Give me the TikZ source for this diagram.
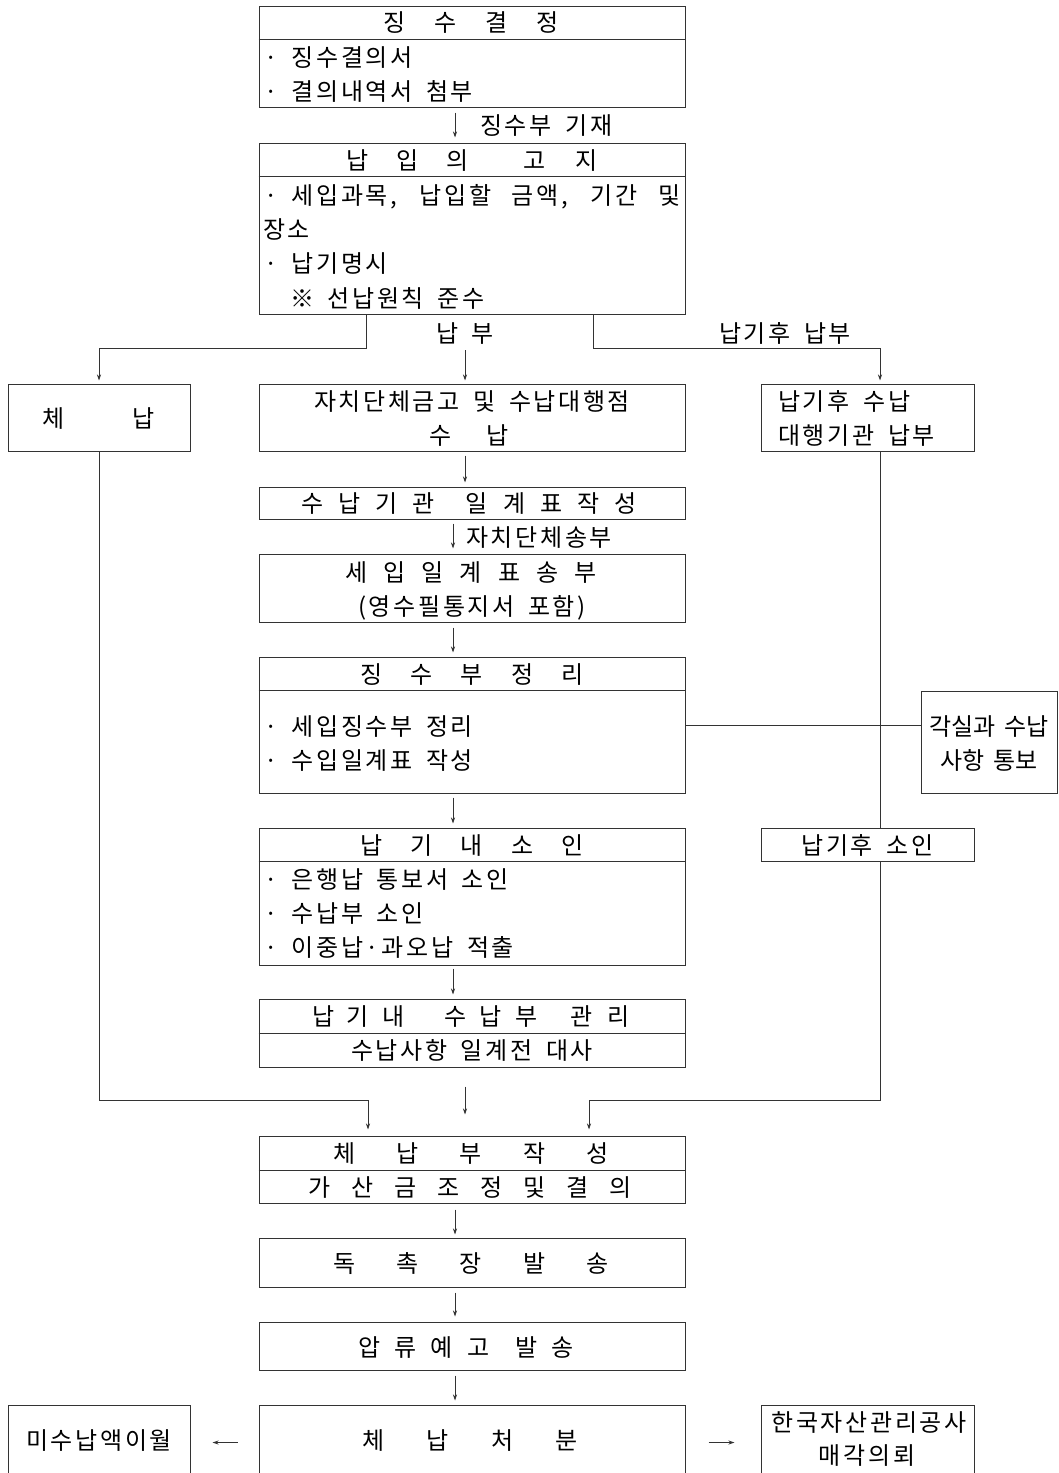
\documentclass[tikz,border=0pt]{standalone}
\usepackage{fontspec}
\setmainfont{Noto Sans CJK KR}[LetterSpace=11, WordSpace=1.7]
\newfontfamily\ttlfont{Noto Sans CJK KR}
\usetikzlibrary{calc,arrows.meta}
\newcommand{\lgap}[1]{\hspace{#1pt}}
\newcommand{\bul}{·\hspace{14pt}}
\begin{document}
\begin{tikzpicture}[x=1pt,y=-1pt,
  box/.style={draw=black!80, line width=1pt, rectangle, inner sep=0pt},
  txt/.style={font=\fontsize{24}{24}\selectfont, inner sep=0pt, text=black, text height=18pt, text depth=0pt},
  ttl/.style={txt, font=\ttlfont\fontsize{24}{24}\selectfont},
  conn/.style={draw=black!80, line width=0.9pt},
  arr/.style={conn, -{Stealth[length=6pt,width=4pt]}}]
\useasboundingbox (0,0) rectangle (1058,1473);
\fill[white] (0,0) rectangle (1058,1473);
\clip (0,0) rectangle (1058,1473);

% ---- boxes ----
\node[box, minimum width=426pt, minimum height=101pt] (b1) at (472,56.5) {};
\node[box, minimum width=426pt, minimum height=171pt] (b2) at (472,228.5) {};
\node[box, minimum width=182pt, minimum height=67pt] (che) at (99,417.5) {};
\node[box, minimum width=426pt, minimum height=67pt] (jach) at (472,417.5) {};
\node[box, minimum width=213pt, minimum height=67pt] (late) at (867.5,417.5) {};
\node[box, minimum width=426pt, minimum height=32pt] (b3) at (472,503) {};
\node[box, minimum width=426pt, minimum height=68pt] (b4) at (472,588) {};
\node[box, minimum width=426pt, minimum height=136pt] (b5) at (472,725) {};
\node[box, minimum width=136pt, minimum height=102pt] (notify) at (989,742) {};
\node[box, minimum width=426pt, minimum height=137pt] (b6) at (472,896.5) {};
\node[box, minimum width=213pt, minimum height=33pt] (latestamp) at (867.5,844.5) {};
\node[box, minimum width=426pt, minimum height=68pt] (b7) at (472,1033) {};
\node[box, minimum width=426pt, minimum height=67pt] (b8) at (472,1169.5) {};
\node[box, minimum width=426pt, minimum height=49pt] (b9) at (472,1262.5) {};
\node[box, minimum width=426pt, minimum height=48pt] (b10) at (472,1346) {};
\node[box, minimum width=426pt, minimum height=75pt] (b11) at (472,1442.5) {};
\node[box, minimum width=182pt, minimum height=75pt] (misu) at (99,1442.5) {};
\node[box, minimum width=213pt, minimum height=75pt] (kamco) at (867.5,1442.5) {};

% ---- header dividers ----
\draw[conn] (b1.west |- 0,39) -- (b1.east |- 0,39);
\draw[conn] (b2.west |- 0,176) -- (b2.east |- 0,176);
\draw[conn] (b5.west |- 0,690) -- (b5.east |- 0,690);
\draw[conn] (b6.west |- 0,861) -- (b6.east |- 0,861);
\draw[conn] (b7.west |- 0,1033) -- (b7.east |- 0,1033);
\draw[conn] (b8.west |- 0,1170) -- (b8.east |- 0,1170);

% ---- texts ----
\node[ttl] (t1) at (471,22) {징\lgap{29}수\lgap{29}결\lgap{29}정};
\node[txt, anchor=west] (t1a) at (264,57) {\bul 징수결의서};
\node[txt, anchor=west] (t1b) at (264,91) {\bul 결의내역서 첨부};
\node[ttl] (t2) at (472,160) {납\lgap{28}입\lgap{28}의\lgap{55}고\lgap{30}지};
\node[txt, anchor=west] (t2a) at (264,195) {\makebox[416pt][s]{\bul 세입과목, 납입할 금액, 기간 및}};
\node[txt, anchor=west] (t2b) at (263,229) {장소};
\node[txt, anchor=west] (t2c) at (264,263) {\bul 납기명시};
\node[txt, anchor=west] (t2d) at (290,298) {※ 선납원칙 준수};
\node[ttl] (tche) at (99,418) {체\lgap{68}납};
\node[txt] (tj1) at (472,401) {자치단체금고 및 수납대행점};
\node[ttl] (tj2) at (469,435) {수\lgap{35}납};
\node[txt, anchor=west] (tl1) at (778,401) {납기후 수납};
\node[txt, anchor=west] (tl2) at (778,435) {대행기관 납부};
\node[ttl] (t3) at (469,503) {수\lgap{15}납\lgap{15}기\lgap{15}관\lgap{31}일\lgap{15}계\lgap{15}표\lgap{15}작\lgap{15}성};
\node[ttl] (t4a) at (471,572) {세\lgap{16}입\lgap{16}일\lgap{16}계\lgap{16}표\lgap{16}송\lgap{16}부};
\node[txt] (t4b) at (472,606) {(영수필통지서 포함)};
\node[ttl] (t5) at (472,674) {징\lgap{28}수\lgap{28}부\lgap{28}정\lgap{28}리};
\node[txt, anchor=west] (t5a) at (264,726) {\bul 세입징수부 정리};
\node[txt, anchor=west] (t5b) at (264,760) {\bul 수입일계표 작성};
\node[ttl] (tn1) at (989,726) {각실과\lgap{9}수납};
\node[ttl] (tn2) at (989,760) {사항\lgap{9}통보};
\node[ttl] (t6) at (472,845) {납\lgap{28}기\lgap{28}내\lgap{28}소\lgap{28}인};
\node[txt, anchor=west] (t6a) at (264,879) {\bul 은행납 통보서 소인};
\node[txt, anchor=west] (t6b) at (264,913) {\bul 수납부 소인};
\node[txt, anchor=west] (t6c) at (264,947) {\bul 이중납·과오납 적출};
\node[txt] (tls) at (867.5,845) {납기후 소인};
\node[ttl] (t7a) at (471,1016) {납\lgap{12}기\lgap{14}내\lgap{40}수\lgap{13}납\lgap{13}부\lgap{33}관\lgap{15}리};
\node[txt] (t7b) at (472,1050) {수납사항 일계전 대사};
\node[ttl] (t8a) at (471,1153) {체\lgap{41}납\lgap{41}부\lgap{41}작\lgap{41}성};
\node[ttl] (t8b) at (470,1187) {가\lgap{21}산\lgap{21}금\lgap{21}조\lgap{21}정\lgap{21}및\lgap{21}결\lgap{21}의};
\node[ttl] (t9) at (471,1263) {독\lgap{41}촉\lgap{41}장\lgap{41}발\lgap{41}송};
\node[ttl] (t10) at (466,1347) {압\lgap{14}류\lgap{14}예\lgap{14}고\lgap{26}발\lgap{14}송};
\node[ttl] (t11) at (470,1440) {체\lgap{42}납\lgap{42}처\lgap{42}분};
\node[txt] (tm) at (99,1440) {미수납액이월};
\node[txt] (tk1) at (869,1422) {한국자산관리공사};
\node[txt] (tk2) at (867,1455) {매각의뢰};

% ---- connector labels ----
\node[txt, anchor=west] (l1) at (480,125) {징수부 기재};
\node[txt] (l2) at (465,333) {납 부};
\node[txt] (l3) at (785,333) {납기후 납부};
\node[txt, anchor=west] (l4) at (466,537) {자치단체송부};

% ---- connectors ----
\draw[arr, shorten <=5pt, shorten >=5pt] ($(b1.south)+(-17,0)$) -- ($(b2.north)+(-17,0)$);
\draw[arr, shorten >=3pt] ($(b2.south)+(-106,0)$) -- ++(0,34) -| (che.north);
\draw[arr, shorten >=3pt] ($(b2.south)+(121,0)$) -- ++(0,34) -| ($(late.north)+(12.5,0)$);
\coordinate (nbtop) at (465,350);
\draw[arr, shorten >=3pt] (nbtop) -- ($(jach.north)+(-7,0)$);
\draw[arr, shorten <=4pt, shorten >=4pt] ($(jach.south)+(-7,0)$) -- ($(b3.north)+(-7,0)$);
\draw[arr, shorten <=4pt, shorten >=5pt] ($(b3.south)+(-19,0)$) -- ($(b4.north)+(-19,0)$);
\draw[arr, shorten <=5pt, shorten >=4pt] ($(b4.south)+(-19,0)$) -- ($(b5.north)+(-19,0)$);
\draw[arr, shorten <=4pt, shorten >=4pt] ($(b5.south)+(-19,0)$) -- ($(b6.north)+(-19,0)$);
\draw[arr, shorten <=3pt, shorten >=4pt] ($(b6.south)+(-19,0)$) -- ($(b7.north)+(-19,0)$);
\draw[conn] (b5.east) -- (b5.east -| notify.west);
\draw[conn] ($(late.south)+(12.5,0)$) -- ($(latestamp.north)+(12.5,0)$);
\draw[arr, shorten >=6pt] ($(latestamp.south)+(12.5,0)$) |- ($(b8.north)+(117,-35)$) -- ($(b8.north)+(117,0)$);
\draw[arr, shorten >=6pt] (che.south) |- ($(b8.north)+(-104,-35)$) -- ($(b8.north)+(-104,0)$);
\draw[arr, shorten <=19pt, shorten >=21pt] ($(b7.south)+(-7,0)$) -- ($(b8.north)+(-7,0)$);
\draw[arr, shorten <=6pt, shorten >=3pt] ($(b8.south)+(-17,0)$) -- ($(b9.north)+(-17,0)$);
\draw[arr, shorten <=5pt, shorten >=5pt] ($(b9.south)+(-17,0)$) -- ($(b10.north)+(-17,0)$);
\draw[arr, shorten <=5pt, shorten >=4pt] ($(b10.south)+(-17,0)$) -- ($(b11.north)+(-17,0)$);
\draw[arr, shorten <=21pt, shorten >=22pt] (b11.west) -- (misu.east);
\draw[arr, shorten <=23pt, shorten >=26pt] (b11.east) -- (kamco.west);
\end{tikzpicture}
\end{document}
